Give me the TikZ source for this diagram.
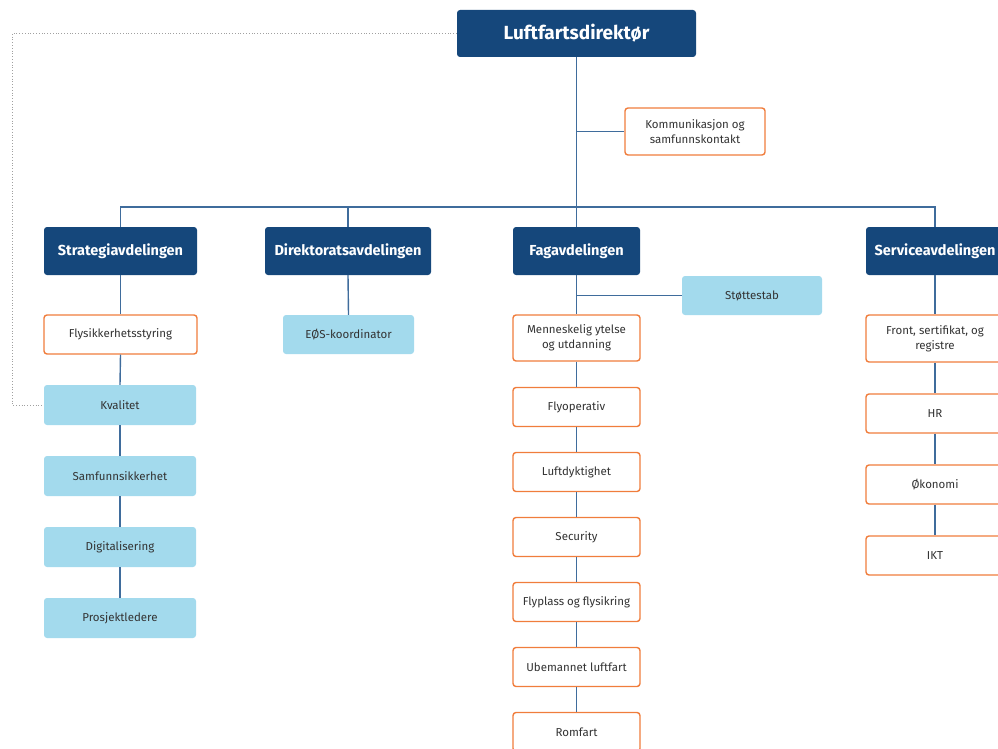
\documentclass[tikz,border=0pt]{standalone}
\usepackage{fontspec}
\setmainfont{Fira Sans}
\definecolor{dblue}{HTML}{15477B}
\definecolor{oline}{HTML}{F07D3C}
\definecolor{lblue}{HTML}{A3DAED}
\definecolor{conn}{HTML}{3F6C9C}
\definecolor{txt}{HTML}{333333}
\definecolor{dotc}{HTML}{A0A0A0}
\begin{document}
\begin{tikzpicture}[x=1pt,y=-1pt,
  head/.style={fill=dblue, rounded corners=3pt, text=white, font=\fontsize{14.5}{16}\selectfont\bfseries, inner sep=0pt, minimum height=48pt},
  top/.style={head, font=\fontsize{19}{21}\selectfont\bfseries, minimum height=47pt, minimum width=239pt},
  obox/.style={draw=oline, line width=1.4pt, fill=white, rounded corners=3pt, text=txt, font=\fontsize{11.5}{15}\selectfont, align=center, inner sep=0pt, minimum width=127pt, minimum height=39pt},
  lbox/.style={fill=lblue, rounded corners=3pt, text=txt, font=\fontsize{11.5}{15}\selectfont, align=center, inner sep=0pt, minimum width=152pt, minimum height=40pt},
  link/.style={draw=conn, line width=1.4pt},
  dots/.style={draw=dotc, line width=0.8pt, dotted}]
\useasboundingbox (0,0) rectangle (998,749);
\clip (0,0) rectangle (998,749);

\node[top] (dir) at (576.5,33.5) {Luftfartsdirektør};
\node[obox, minimum width=140pt, minimum height=47pt] (komm) at (695,131.5) {Kommunikasjon og\\samfunnskontakt};

\node[head, minimum width=153pt] (strat) at (120.5,251) {Strategiavdelingen};
\node[head, minimum width=166pt] (direk) at (348,251) {Direktoratsavdelingen};
\node[head, minimum width=127pt] (fag) at (576.5,251) {Fagavdelingen};
\node[head, minimum width=138pt] (serv) at (935,251) {Serviceavdelingen};

% Strategi column
\node[obox, minimum width=153pt] (flys) at (120.5,334.5) {Flysikkerhetsstyring};
\node[lbox] (kval) at (120,405) {Kvalitet};
\node[lbox] (samf) at (120,476) {Samfunnsikkerhet};
\node[lbox] (digi) at (120,547) {Digitalisering};
\node[lbox] (pros) at (120,618) {Prosjektledere};

% Direktorat
\node[lbox, minimum width=131pt, minimum height=39pt] (eos) at (348.5,334.5) {EØS-koordinator};

% Fag column
\node[lbox, minimum width=140pt, minimum height=39pt] (stot) at (752,295.5) {Støttestab};
\node[obox, minimum height=46pt] (menn) at (576.5,338) {Menneskelig ytelse\\og utdanning};
\node[obox] (flyo) at (576.5,407) {Flyoperativ};
\node[obox] (luft) at (576.5,472) {Luftdyktighet};
\node[obox] (secu) at (576.5,537) {Security};
\node[obox] (flyp) at (576.5,602) {Flyplass og flysikring};
\node[obox] (ubem) at (576.5,667) {Ubemannet luftfart};
\node[obox] (romf) at (576.5,732) {Romfart};

% Service column
\node[obox, minimum width=138pt, minimum height=47pt] (front) at (935,338.5) {Front, sertifikat, og\\registre};
\node[obox, minimum width=138pt] (hr) at (935,413.5) {HR};
\node[obox, minimum width=138pt] (okon) at (935,484.5) {Økonomi};
\node[obox, minimum width=138pt] (ikt) at (935,555.5) {IKT};

% bar and dotted-line corner
\coordinate (bl) at (120.5,207);
\coordinate (br) at (935,207);
\coordinate (dc) at (12,405);

% connectors
\path[link] (dir.south) -- (fag.north);
\path[link] (dir.south |- komm.west) -- (komm.west);
\path[link] (strat.north) -- (bl) -- (br) -- (serv.north);
\path[link] (direk.north) -- (direk.north |- bl);
\path[link] (strat.south) -- (flys.north);
\path[link] (flys.south) -- (kval.north);
\path[link] (kval.south) -- (samf.north);
\path[link] (samf.south) -- (digi.north);
\path[link] (digi.south) -- (pros.north);
\path[link] (direk.south) -- (eos.north);
\path[link] (fag.south) -- (menn.north);
\path[link] (fag.south |- stot.west) -- (stot.west);
\path[link] (menn.south) -- (flyo.north);
\path[link] (flyo.south) -- (luft.north);
\path[link] (luft.south) -- (secu.north);
\path[link] (secu.south) -- (flyp.north);
\path[link] (flyp.south) -- (ubem.north);
\path[link] (ubem.south) -- (romf.north);
\path[link] (serv.south) -- (front.north);
\path[link] (front.south) -- (hr.north);
\path[link] (hr.south) -- (okon.north);
\path[link] (okon.south) -- (ikt.north);
\path[dots] (dir.west) -| (dc) -- (kval.west);
\end{tikzpicture}
\end{document}
